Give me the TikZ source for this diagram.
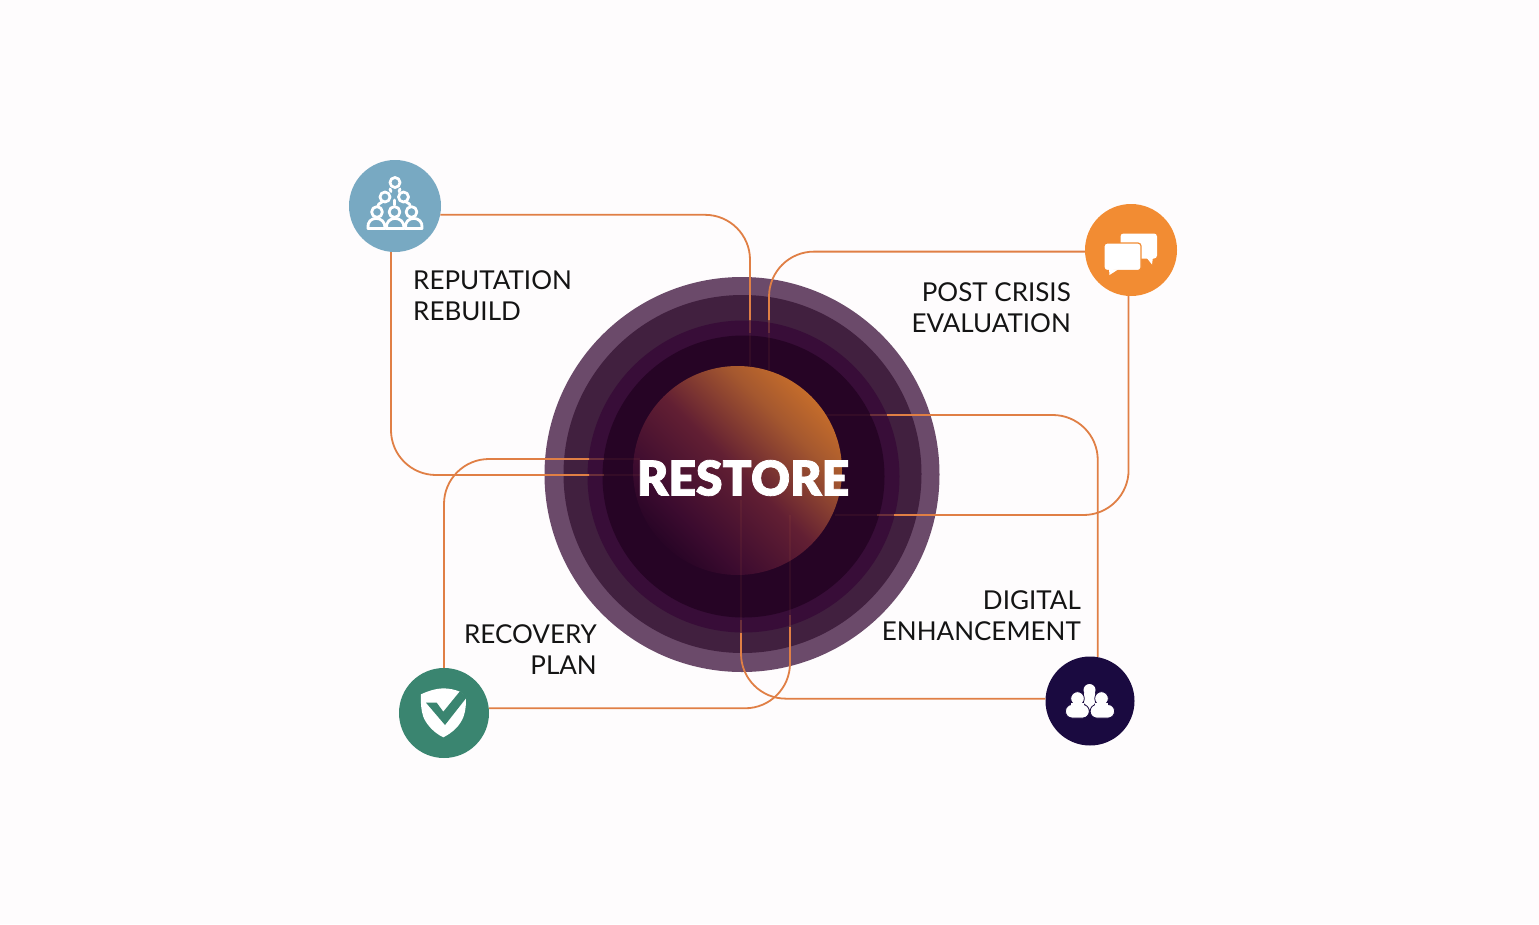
\documentclass[tikz,border=0pt]{standalone}
\usepackage{fontspec}
\setmainfont{Lato}
\newfontfamily\heavyfont[FakeBold=1.6]{Lato Black}
\usetikzlibrary{calc}
\definecolor{bgc}{HTML}{FEFCFD}
\definecolor{linec}{HTML}{E07F45}
\definecolor{ringa}{HTML}{6B4A6A}
\definecolor{ringb}{HTML}{41203F}
\definecolor{ringc}{HTML}{380D38}
\definecolor{ringd}{HTML}{260425}
\definecolor{bluec}{HTML}{78A9C2}
\definecolor{orangec}{HTML}{F28C33}
\definecolor{greenc}{HTML}{3A8570}
\definecolor{navyc}{HTML}{1A0A40}
\definecolor{sphA}{HTML}{3C0B2F}
\definecolor{sphB}{HTML}{621F33}
\definecolor{sphD}{HTML}{A5582F}
\definecolor{sphC}{HTML}{C46C2B}
\pgfdeclarehorizontalshading{sphereshade}{100bp}{color(0bp)=(ringd); color(24bp)=(ringd); color(33bp)=(sphA); color(50bp)=(sphB); color(66bp)=(sphD); color(75bp)=(sphC); color(100bp)=(sphC)}
\tikzset{
  conn/.style={draw=linec,line width=1.8pt,rounded corners=45pt},
  dim/.style={draw=linec,line width=1.8pt,opacity=.3},
  faint/.style={draw=linec,line width=1.8pt,opacity=.07},
  iconnode/.style={circle,inner sep=0pt,minimum size=#1},
  lbl/.style={font=\fontsize{26}{31}\selectfont,text=black!92,inner sep=0pt},
  whiteline/.style={draw=white,line width=2.8pt,fill=none,line join=round,line cap=round},
  bodyblob/.style={fill=white,draw=navyc,line width=.8pt,rounded corners=6.5pt}
}
\begin{document}
\begin{tikzpicture}[x=1pt,y=-1pt]
\useasboundingbox[fill=bgc] (0,0) rectangle (1539,924);
% rings
\fill[ringa] (742,474.5) circle (197.5);
\fill[ringb] (742.5,474) circle (179);
\fill[ringc] (743.5,476.5) circle (156);
\fill[ringd] (743.5,476.5) circle (141);
\shade[shading=sphereshade,shading angle=45] (737.5,470.5) circle (104.5);
% icon circles
\node[iconnode=92pt,fill=bluec] (rep) at (395,206) {};
\node[iconnode=92pt,fill=orangec] (post) at (1131,250) {};
\node[iconnode=90pt,fill=greenc] (rec) at (444,713) {};
\node[iconnode=89pt,fill=navyc] (dig) at (1090,701) {};
% connector ends on the core
\coordinate (rA) at (750,320); \coordinate (rAd) at (750,333); \coordinate (rAf) at (750,366);
\coordinate (rB) at (589,475); \coordinate (rBd) at (604,475); \coordinate (rBf) at (640,475);
\coordinate (pA) at (769,320); \coordinate (pAd) at (769,333); \coordinate (pAf) at (769,370);
\coordinate (pB) at (894,515); \coordinate (pBd) at (877,515); \coordinate (pBf) at (835,515);
\coordinate (cA) at (589,459); \coordinate (cAd) at (604,459); \coordinate (cAf) at (640,459);
\coordinate (cB) at (790,627); \coordinate (cBd) at (790,615); \coordinate (cBf) at (790,515);
\coordinate (dA) at (887,415); \coordinate (dAd) at (870,415); \coordinate (dAf) at (825,415);
\coordinate (dB) at (741,633); \coordinate (dBd) at (741,620); \coordinate (dBf) at (741,500);
% connectors
\draw[conn] (rep.-11) -| (rA);
\draw[conn] (rep.-95) |- (rB);
\draw[conn] (post.182.5) -| (pA);
\draw[conn] (post.-93) |- (pB);
\draw[conn] (rec.90) |- (cA);
\draw[conn] (rec.6) -| (cB);
\draw[conn] (dig.80) |- (dA);
\draw[conn] (dig.177.5) -| (dB);
\foreach \n in {rA,rB,pA,pB,cA,cB,dA,dB}{
  \draw[dim] (\n) -- (\n d);
  \draw[faint] (\n d) -- (\n f);
}
% icons
% pyramid of people
\begin{scope}[whiteline]
  \draw (395,182.5) circle (5);
  \draw (385,197) circle (5);
  \draw (403.5,197) circle (5);
  \draw (377,212) circle (5.4);
  \draw (394.5,212) circle (5.4);
  \draw (411.5,212) circle (5.4);
  \draw (390,189) -- (391,191.5);
  \draw (400,189) -- (399,191.5);
  \draw (394.5,200) -- (394.5,205);
  \draw (368,228.5) .. controls (366,215) and (386,215) .. (385,228.5) -- cycle;
  \draw (386.5,228.5) .. controls (385,215) and (405,215) .. (404,228.5) -- cycle;
  \draw (405.5,228.5) .. controls (403.5,215) and (424,215) .. (422,228.5) -- cycle;
  \draw (378,205) .. controls (378,204) and (381,203) .. (382,202);
  \draw (410,205) .. controls (410,204) and (408,203) .. (406,202);
\end{scope}
% chat bubbles
\fill[white,rounded corners=3pt] (1120.5,233.5) rectangle (1157,258.5);
\fill[white] (1146,257) -- (1152,264.5) -- (1153,257) -- cycle;
\fill[white,draw=orangec,line width=1.2pt,rounded corners=3pt] (1104,243) rectangle (1141,270.5);
\fill[white] (1109,269) -- (1109.5,275) -- (1118,269.5) -- cycle;
% shield
\fill[white] (443.3,688.3) .. controls (436,688.5) and (428,691) .. (421,694.3)
  .. controls (420.5,702) and (421,710) .. (423.3,716.7)
  .. controls (426,724) and (434,733) .. (443.3,737.3)
  .. controls (452,733) and (460,726) .. (463.5,716.7)
  .. controls (466,710) and (466,703) .. (466,697)
  -- (460,691.7) .. controls (455,689.5) and (449,688.5) .. cycle;
\fill[greenc] (426,702.7) -- (436.7,702.7) -- (443.3,711.7) -- (460,691.2) -- (467,697) -- (445,725) -- cycle;
% group of people
\fill[white] (1089.5,690) circle (6);
\fill[white] (1084,693) -- (1095,693) -- (1095,703) -- (1090,710) -- (1084,703) -- cycle;
\fill[bodyblob] (1065.5,718) rectangle (1089.2,704.5);
\fill[bodyblob] (1090.2,718) rectangle (1114.5,704.5);
\fill[white,draw=navyc,line width=.8pt] (1077.5,698.5) circle (6.8);
\fill[white,draw=navyc,line width=.8pt] (1101.5,698.5) circle (6.8);
\fill[white] (1071,703) rectangle (1084,707);
\fill[white] (1095,703) rectangle (1108,707);
% labels
\node[font=\heavyfont\fontsize{48}{50}\selectfont,text=white,inner sep=0pt] (core) at (743,478) {RESTORE};
\node[lbl,anchor=west,align=left] (repl) at (413,296) {REPUTATION\\REBUILD};
\node[lbl,anchor=east,align=right] (postl) at (1071,308) {POST CRISIS\\EVALUATION};
\node[lbl,anchor=east,align=right] (digl) at (1081,616) {DIGITAL\\ENHANCEMENT};
\node[lbl,anchor=east,align=right] (recl) at (597,650) {RECOVERY\\PLAN};
\end{tikzpicture}
\end{document}
